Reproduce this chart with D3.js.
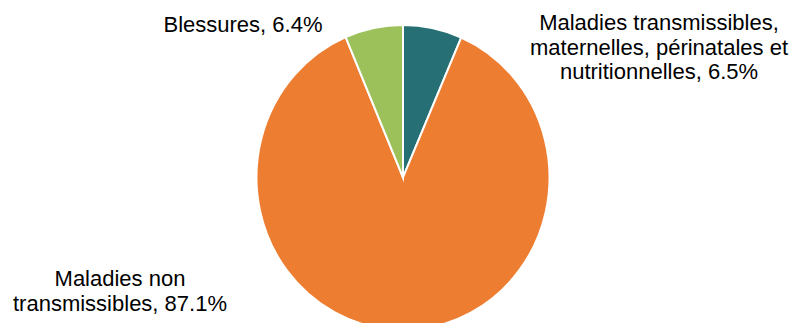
<!DOCTYPE html>
<html>
<head>
<meta charset="utf-8">
<script src="https://cdn.jsdelivr.net/npm/d3@7"></script>
<style>
  html, body { margin: 0; padding: 0; background: #fff; }
  svg { display: block; }
  text { font-family: "Liberation Sans", Arial, sans-serif; font-size: 22px; fill: #000; }
</style>
</head>
<body>
<svg id="chart" width="794" height="323"></svg>
<script>
// Causes of death, share of total (%)
const categories = [
  "Maladies transmissibles, maternelles, périnatales et nutritionnelles",
  "Maladies non transmissibles",
  "Blessures"
];
const values = [6.5, 87.1, 6.4];
// Label lines as drawn beside each slice
const labelLines = [
  ["Maladies transmissibles,", "maternelles, périnatales et", "nutritionnelles, 6.5%"],
  ["Maladies non", "transmissibles, 87.1%"],
  ["Blessures, 6.4%"]
];
const colors = ["#266f74", "#ed7d31", "#9cc15b"];

// Layout: the pie is drawn slightly taller than wide
const cx = 403, cy = 177.5, radius = 146.5, yStretch = 152.5 / 146.5;
const lineHeight = 24.5;
const labelAnchors = [
  { x: 659, y: 30 },   // first baseline
  { x: 120, y: 286 },
  { x: 243, y: 32 }
];

const svg = d3.select("#chart");
const g = svg.append("g").attr("transform", `translate(${cx},${cy}) scale(1,${yStretch})`);

const pie = d3.pie().sort(null).value(d => d.value);
const arc = d3.arc().innerRadius(0).outerRadius(radius);

const data = categories.map((c, i) => ({ name: c, value: values[i], color: colors[i] }));

g.selectAll("path")
  .data(pie(data))
  .join("path")
  .attr("d", arc)
  .attr("fill", d => d.data.color)
  .attr("stroke", "#fff")
  .attr("stroke-width", 2)
  .attr("vector-effect", "non-scaling-stroke")
  .attr("stroke-linejoin", "miter")
  .attr("stroke-miterlimit", 10);

labelLines.forEach((lines, i) => {
  const t = svg.append("text")
    .attr("text-anchor", "middle")
    .attr("x", labelAnchors[i].x)
    .attr("y", labelAnchors[i].y);
  lines.forEach((ln, j) => {
    t.append("tspan")
      .attr("x", labelAnchors[i].x)
      .attr("y", labelAnchors[i].y + j * lineHeight)
      .text(ln);
  });
});
</script>
</body>
</html>
